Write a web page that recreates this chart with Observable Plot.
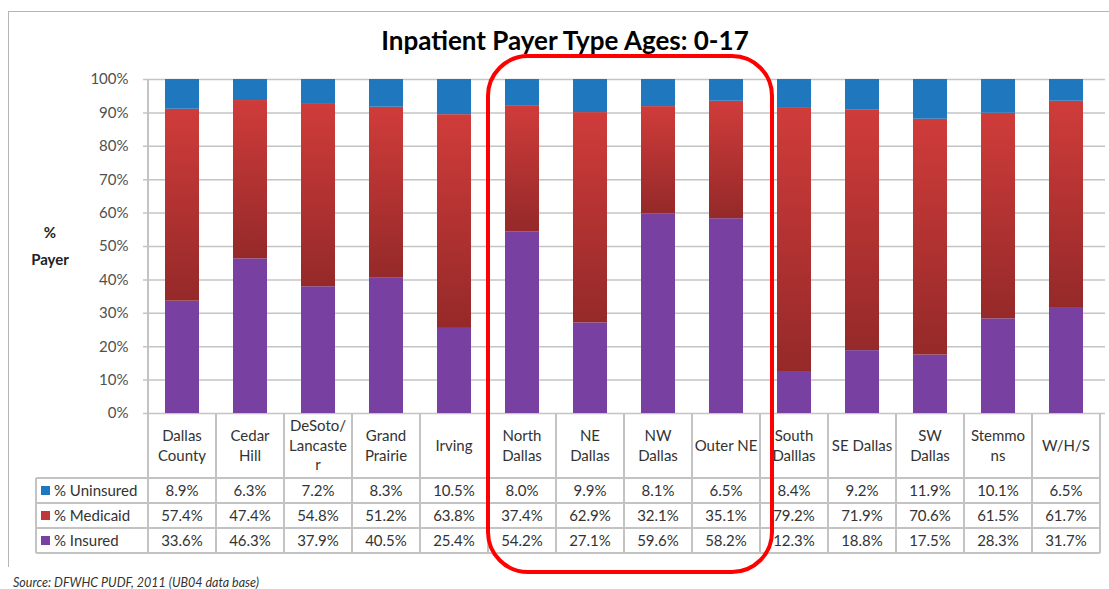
<!DOCTYPE html>
<html>
<head>
<meta charset="utf-8">
<script src="https://cdn.jsdelivr.net/npm/d3@7"></script>
<script src="https://cdn.jsdelivr.net/npm/@observablehq/plot@0.6"></script>
<style>
  html, body { margin: 0; padding: 0; background: #fff; }
  #wrap { position: relative; width: 1109px; height: 589px; overflow: hidden; background: #fff; font-family: Lato, "Noto Sans", sans-serif; }
  #wrap svg { position: absolute; left: 0; top: 0; }
  .abs { position: absolute; }
  .cell { position: absolute; display: flex; align-items: center; justify-content: center; text-align: center; color: #333; font-size: 15px; line-height: 19.5px; }
  .hl { position: absolute; background: #c3c3c3; }
</style>
</head>
<body>
<div id="wrap"></div>
<script>
// ---- data ----
const title = "Inpatient Payer Type Ages: 0-17";
const categories = ["Dallas County", "Cedar Hill", "DeSoto/Lancaster", "Grand Prairie", "Irving",
  "North Dallas", "NE Dallas", "NW Dallas", "Outer NE", "South Dalllas", "SE Dallas", "SW Dallas",
  "Stemmons", "W/H/S"];
const headerLines = [["Dallas", "County"], ["Cedar", "Hill"], ["DeSoto/", "Lancaste", "r"], ["Grand", "Prairie"],
  ["Irving"], ["North", "Dallas"], ["NE", "Dallas"], ["NW", "Dallas"], ["Outer NE"], ["South", "Dalllas"],
  ["SE Dallas"], ["SW", "Dallas"], ["Stemmo", "ns"], ["W/H/S"]];
const uninsured = [8.9, 6.3, 7.2, 8.3, 10.5, 8.0, 9.9, 8.1, 6.5, 8.4, 9.2, 11.9, 10.1, 6.5];
const medicaid  = [57.4, 47.4, 54.8, 51.2, 63.8, 37.4, 62.9, 32.1, 35.1, 79.2, 71.9, 70.6, 61.5, 61.7];
const insured   = [33.6, 46.3, 37.9, 40.5, 25.4, 54.2, 27.1, 59.6, 58.2, 12.3, 18.8, 17.5, 28.3, 31.7];
const seriesNames = ["% Uninsured", "% Medicaid", "% Insured"];
const yTickValues = [0, 10, 20, 30, 40, 50, 60, 70, 80, 90, 100];
const highlighted = ["North Dallas", "Outer NE"];
const source = "Source: DFWHC PUDF, 2011 (UB04 data base)";

// ---- styles ----
const colors = {"% Insured": "#7841a1", "% Medicaid": "url(#medGrad)", "% Uninsured": "#1f78be"};
const swatch = {"% Insured": "#7841a1", "% Medicaid": "#c0393a", "% Uninsured": "#1f78be"};

const rows = categories.flatMap((c, i) => [
  {cat: c, series: "% Insured", v: insured[i]},
  {cat: c, series: "% Medicaid", v: medicaid[i]},
  {cat: c, series: "% Uninsured", v: uninsured[i]}
]);

const defs = () => {
  const d = d3.create("svg:defs");
  const g = d.append("linearGradient").attr("id", "medGrad")
    .attr("x1", 0).attr("y1", 0).attr("x2", 0).attr("y2", 1);
  g.append("stop").attr("offset", "0%").attr("stop-color", "#cf3c3a");
  g.append("stop").attr("offset", "100%").attr("stop-color", "#952929");
  return d.node();
};

const chart = Plot.plot({
  width: 1109,
  height: 589,
  marginLeft: 143,
  marginRight: 4,
  marginTop: 79,
  marginBottom: 176,
  x: {domain: categories, padding: 0, axis: null},
  y: {domain: [0, 1], ticks: yTickValues.map(t => t / 100), tickFormat: d3.format(".0%"),
      tickSize: 0, tickPadding: 15, label: null},
  color: {type: "ordinal", domain: Object.keys(colors), range: Object.values(colors)},
  style: {background: "transparent", fontFamily: "Lato, 'Noto Sans', sans-serif", fontSize: "15px", color: "#505050", overflow: "visible"},
  marks: [
    defs,
    Plot.ruleY(yTickValues.map(t => t / 100), {stroke: "#c4c4c4", strokeWidth: 1.5}),
    Plot.barY(rows, Plot.stackY({offset: "normalize"}, {x: "cat", y: "v", fill: "series", insetLeft: 17, insetRight: 17}))
  ]
});

const wrap = document.getElementById("wrap");

// frame
const frame = document.createElement("div");
frame.className = "abs";
Object.assign(frame.style, {left: "8px", top: "11px", width: "1120px", height: "556px",
  borderLeft: "1.5px solid #b5b5b5", borderTop: "1.5px solid #b5b5b5", boxSizing: "border-box"});
wrap.appendChild(frame);

wrap.appendChild(chart);

const xs = chart.scale("x");
const ys = chart.scale("y");
const bw = xs.bandwidth;
const xl = c => xs.apply(c);
const y0 = ys.apply(0);
const y1 = ys.apply(1);
const xStart = xl(categories[0]);
const xEnd = xl(categories[categories.length - 1]) + bw;

function add(el) { wrap.appendChild(el); return el; }
function line(x, y, w, h) {
  const d = document.createElement("div");
  d.className = "hl";
  Object.assign(d.style, {left: x + "px", top: y + "px", width: w + "px", height: h + "px"});
  return add(d);
}

// title
const t = document.createElement("div");
t.className = "abs";
t.textContent = title;
Object.assign(t.style, {left: "0px", width: "1130px", top: "25px", textAlign: "center", fontWeight: "bold",
  fontSize: "26px", lineHeight: "30px", color: "#000"});
add(t);

// y label
[["%", 232], ["Payer", 259]].forEach(([s, cy]) => {
  const d = document.createElement("div");
  d.className = "abs";
  d.textContent = s;
  Object.assign(d.style, {left: "0px", width: "100px", top: (cy - 10) + "px", lineHeight: "20px",
    textAlign: "center", fontWeight: "bold", fontSize: "15px", color: "#222"});
  add(d);
});

// table
const legendLeft = 36;
const headerBottom = 478;
const rowH = 25;
const tableBottom = headerBottom + rowH * 3;
// vertical axis line
line(xStart - 0.75, y1, 1.5, tableBottom - y1);
// column borders
categories.forEach((c, i) => {
  line(xl(c) + bw - 0.75, y0, 1.5, tableBottom - y0);
});
line(legendLeft - 0.75, headerBottom, 1.5, tableBottom - headerBottom);
// row borders
for (let r = 0; r <= 3; r++) line(legendLeft, headerBottom + r * rowH - 0.75, xEnd - legendLeft, 1.5);

// header cells
categories.forEach((c, i) => {
  const d = document.createElement("div");
  d.className = "cell";
  Object.assign(d.style, {left: xl(c) + "px", width: bw + "px", top: (y0 + 1) + "px", height: (headerBottom - y0 - 2) + "px"});
  d.innerHTML = headerLines[i].join("<br>");
  add(d);
});

// value rows
const fmt = v => d3.format(".1f")(v) + "%";
const seriesValues = {"% Uninsured": uninsured, "% Medicaid": medicaid, "% Insured": insured};
seriesNames.forEach((s, r) => {
  const top = headerBottom + r * rowH;
  const lab = document.createElement("div");
  lab.className = "cell";
  Object.assign(lab.style, {left: legendLeft + "px", width: (xStart - legendLeft) + "px", top: top + "px", height: rowH + "px",
    justifyContent: "flex-start", paddingLeft: "5px", boxSizing: "border-box"});
  lab.innerHTML = `<span style="display:inline-block;width:9px;height:9px;background:${swatch[s]};margin-right:4px"></span>${s}`;
  add(lab);
  categories.forEach((c, i) => {
    const d = document.createElement("div");
    d.className = "cell";
    Object.assign(d.style, {left: xl(c) + "px", width: bw + "px", top: top + "px", height: rowH + "px"});
    d.textContent = fmt(seriesValues[s][i]);
    add(d);
  });
});

// source
const src = document.createElement("div");
src.className = "abs";
src.textContent = source;
Object.assign(src.style, {left: "13px", top: "575px", fontSize: "12.5px", lineHeight: "16px", fontStyle: "italic", color: "#333"});
add(src);

// highlight rounded rectangle
const hx1 = xl(highlighted[0]) - 2.5;
const hx2 = xl(highlighted[1]) + bw + 13.5;
const hb = document.createElement("div");
hb.className = "abs";
Object.assign(hb.style, {left: hx1 + "px", top: "54px", width: (hx2 - hx1) + "px", height: "520px",
  border: "4px solid #ff0000", borderRadius: "42px", boxSizing: "border-box"});
add(hb);
</script>
</body>
</html>
